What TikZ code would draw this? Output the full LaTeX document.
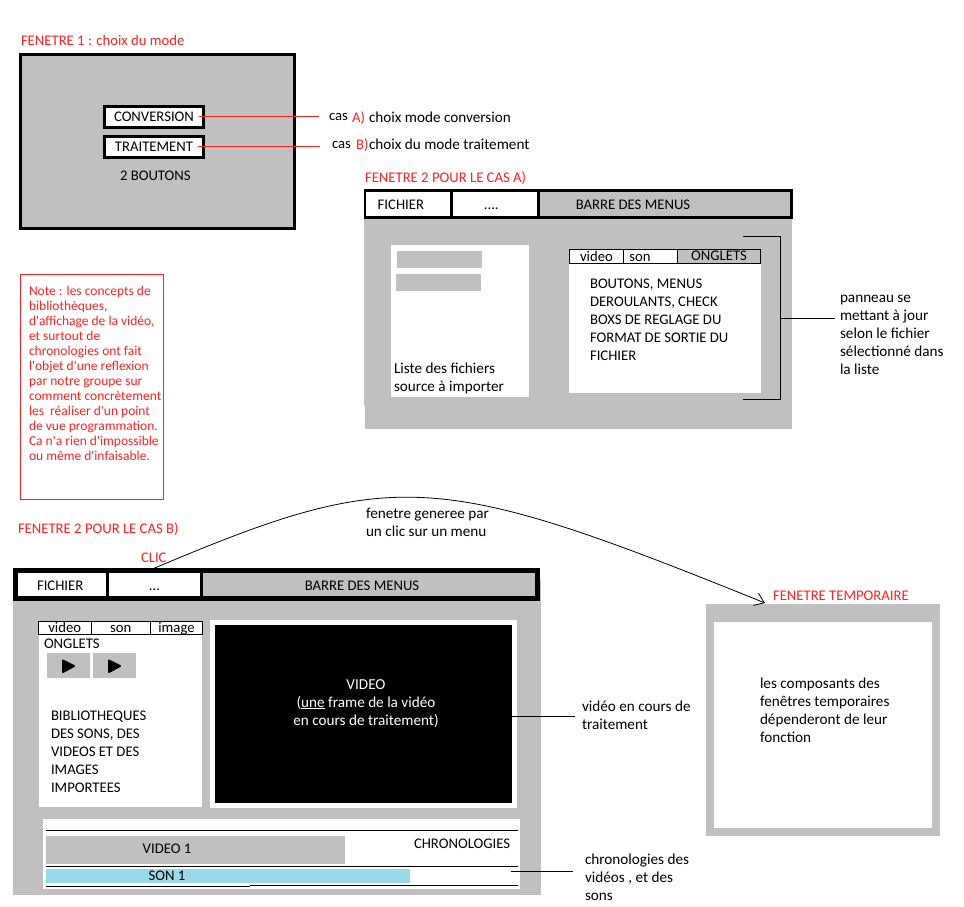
\documentclass[tikz,border=0pt]{standalone}
\usepackage{fontspec}
\setmainfont{Carlito}[Ligatures=TeXOff]
\usetikzlibrary{arrows.meta}
\definecolor{wingray}{RGB}{192,192,192}
\definecolor{redtxt}{RGB}{255,32,32}
\definecolor{songblue}{RGB}{153,217,234}
\newcommand{\txtsize}{\fontsize{14.7}{18}\selectfont}
\newcommand{\lowsize}{\fontsize{15.2}{18}\selectfont}
\newcommand{\notesize}{\fontsize{13.5}{15}\selectfont}
\newcommand{\pxbox}[7]{%
  \pgfmathsetmacro{\bw}{#5-#3}\pgfmathsetmacro{\bh}{#6-#4}%
  \pgfmathsetmacro{\bx}{(#3+#5)/2}\pgfmathsetmacro{\by}{(#4+#6)/2}%
  \node[boxbase,#2,minimum width=\bw pt,minimum height=\bh pt] (#1) at (\bx,\by) {#7};}
\newcommand{\lbl}[5][]{\node[txt,#1] (#2) at (#3,#4) {\strut\smash{#5}};}
\newcommand{\mlbl}[5][]{\pgfmathsetmacro{\ty}{#4-10}%
  \node[mtxt,#1] (#2) at (#3,\ty) {\rule{0pt}{10pt}#5};}
\tikzset{
  boxbase/.style={rectangle,inner sep=0pt,outer sep=0pt,text height=9pt,text depth=0pt,font=\txtsize},
  gray fill/.style={fill=wingray},
  white fill/.style={fill=white},
  heavy/.style={draw=black,line width=3pt},
  thinbox/.style={draw=black,line width=1pt},
  low text/.style={text height=11pt,text depth=0pt},
  txt/.style={anchor=base west,inner sep=0pt,outer sep=0pt,font=\txtsize},
  mtxt/.style={anchor=north west,align=left,inner sep=0pt,outer sep=0pt,font=\txtsize},
  lc/.style={font=\lowsize},
  red label/.style={text=redtxt},
  leader/.style={draw=black,line width=0.8pt},
  redleader/.style={draw=redtxt,line width=0.8pt},
  playtri/.style={fill=black,draw=black,line width=2pt,line join=round},
}
\begin{document}
\begin{tikzpicture}[x=1pt,y=-1pt]
\useasboundingbox (0,0) rectangle (964,907);
\fill[white] (0,0) rectangle (964,907);

% ---------- FENETRE 1
\lbl[red label]{t1}{21}{46}{FENETRE 1 : choix du mode}
\pxbox{w1}{gray fill,heavy}{20.5}{54.5}{294}{228}{}
\pxbox{conv}{white fill,heavy}{104.5}{106.5}{203.5}{127}{CONVERSION}
\pxbox{trait}{white fill,heavy}{104.5}{136.5}{203.5}{157}{TRAITEMENT}
\lbl{deuxb}{120}{180}{2 BOUTONS}
\lbl{casA}{329}{121}{cas}
\lbl[red label]{casAr}{352}{122}{A)}
\lbl[lc]{casAt}{369}{122}{choix mode conversion}
\lbl{casB}{332}{148}{cas}
\lbl[red label]{casBr}{356}{149}{B)}
\lbl[lc]{casBt}{369}{149}{choix du mode traitement}
\coordinate (endA) at (318.5,116.75);
\coordinate (endB) at (320,146.75);
\draw[redleader] ([xshift=-5pt]conv.east) -- (endA);
\draw[redleader] ([xshift=-6pt]trait.east) -- (endB);

% ---------- FENETRE 2 cas A
\lbl[red label]{t2a}{365}{182}{FENETRE 2 POUR LE CAS A)}
\pxbox{w2a}{gray fill}{364}{200}{791.5}{405.5}{}
\pxbox{w2ab}{gray fill}{365}{405}{791.5}{429}{}
\pxbox{bara}{fill=black}{363.5}{189}{792.5}{218.7}{}
\pxbox{fa}{white fill,low text}{366}{192}{449.8}{216}{\hspace*{-14pt}FICHIER}
\pxbox{da}{white fill,low text}{452.8}{192}{536.8}{216}{\hspace*{-7pt}....}
\pxbox{ba}{gray fill,low text}{540}{192}{790}{216}{\hspace*{-64pt}BARRE DES MENUS}
\pxbox{lista}{white fill}{391}{245}{529}{397}{}
\pxbox{g1}{gray fill}{397}{251}{482}{268}{}
\pxbox{g2}{gray fill}{396}{274}{481}{291}{}
\mlbl[lc]{lista t}{394}{373}{Liste des fichiers\\source à importer}
\pxbox{panA}{white fill}{569}{249}{761}{393}{}
\pxbox{tab1}{white fill,thinbox,low text}{569.5}{249.5}{623.5}{263}{video}
\pxbox{tab2}{white fill,thinbox,low text}{623.5}{249.5}{677.5}{263}{\hspace*{-21pt}son}
\pxbox{tab3}{gray fill,thinbox}{677.5}{249.5}{760.5}{263}{ONGLETS}
\mlbl{panA t}{590}{288}{BOUTONS, MENUS\\DEROULANTS, CHECK\\BOXS DE REGLAGE DU\\FORMAT DE SORTIE DU\\FICHIER}
\coordinate (br1) at (743,236);
\coordinate (br2) at (780.6,236);
\coordinate (br3) at (780.6,399);
\coordinate (br4) at (743,399);
\coordinate (brm) at (780.6,318.5);
\coordinate (panEnd) at (835,318.5);
\draw[leader] (br1) -- (br2) -- (br3) -- (br4);
\draw[leader] (brm) -- (panEnd);
\mlbl[lc]{pan t}{840}{302}{panneau se\\mettant à jour\\selon le fichier\\sélectionné dans\\la liste}

% ---------- NOTE
\pxbox{note}{draw=redtxt,line width=.8pt}{20.5}{274.5}{163.5}{499.5}{}
\mlbl[font=\notesize,text=redtxt]{note t}{29}{295}{Note : les concepts de\\bibliothèques,\\d'affichage de la vidéo,\\et surtout de\\chronologies ont fait\\l'objet d'une reflexion\\par notre groupe sur\\comment concrètement\\les\ \ réaliser d'un point\\de vue programmation.\\Ca n'a rien d'impossible\\ou même d'infaisable.}

% ---------- FENETRE 2 cas B
\lbl[red label]{t2b}{18}{533}{FENETRE 2 POUR LE CAS B)}
\lbl[red label]{clic}{141}{562}{CLIC}
\pxbox{w2b}{gray fill}{13}{580}{541}{895}{}
\pxbox{barb}{fill=black}{13}{568}{540}{600.7}{}
\pxbox{fb}{white fill,low text}{17.7}{573.3}{105.7}{595.7}{\hspace*{-3pt}FICHIER}
\pxbox{db}{white fill,low text}{109}{573.3}{200}{595.7}{...}
\pxbox{bb}{gray fill,low text}{203}{573.3}{535}{595.7}{\hspace*{-14pt}BARRE DES MENUS}
\pxbox{panB}{white fill}{39}{621}{202}{807}{}
\pxbox{tb1}{white fill,thinbox}{38.5}{621.5}{91}{634.5}{video}
\pxbox{tb2}{white fill,thinbox}{91}{621.5}{150.5}{634.5}{son}
\pxbox{tb3}{white fill,thinbox}{150.5}{621.5}{202.5}{634.5}{image}
\lbl{ong}{44}{648}{ONGLETS}
\pxbox{pb1}{gray fill}{47}{653}{90}{678}{}
\pxbox{pb2}{gray fill}{93}{653}{136}{678}{}
\filldraw[playtri] (63,660.5) -- (74,666) -- (63,672) -- cycle;
\filldraw[playtri] (109,660.5) -- (120,666) -- (109,672) -- cycle;
\mlbl{bib t}{51}{720}{BIBLIOTHEQUES\\DES SONS, DES\\VIDEOS ET DES\\IMAGES\\IMPORTEES}
\pxbox{vidw}{white fill}{210}{620}{517}{808}{}
\pxbox{vid}{fill=black}{215}{625}{512}{803}{}
\node[mtxt,lc,anchor=north,align=center,text=white] (vid t) at (366,679) {\rule{0pt}{10pt}VIDEO\\(\underline{une} frame de la vidéo\\en cours de traitement)};
\coordinate (vidEnd) at (575,716.5);
\draw[leader] (vid.east |- vidEnd) -- (vidEnd);
\mlbl[lc]{vid l}{582}{711}{vidéo en cours de\\traitement}
\pxbox{chrono}{white fill}{43}{819}{520}{889}{}
\pxbox{v1}{gray fill,text height=10pt,text depth=3pt}{46}{836}{345}{864}{\hspace*{-57pt}VIDEO 1}
\pxbox{s1}{fill=songblue}{46}{869}{410}{883}{\hspace*{-122pt}SON 1}
\coordinate (l1a) at (46,830.5);
\coordinate (l1b) at (518,830.5);
\coordinate (l2a) at (46,866.5);
\coordinate (l2b) at (518,866.5);
\coordinate (l3a) at (46,886.5);
\coordinate (l3b) at (250,886.5);
\coordinate (l4a) at (250,885.5);
\coordinate (l4b) at (518,885.5);
\draw[leader] (l1a) -- (l1b);
\draw[leader] (l2a) -- (l2b);
\draw[leader] (l3a) -- (l3b);
\draw[leader] (l4a) -- (l4b);
\lbl{chr}{414}{848}{CHRONOLOGIES}
\coordinate (chrS) at (511,871);
\coordinate (chrE) at (573,871);
\draw[leader] (chrS) -- (chrE);
\mlbl[lc]{chr l}{585}{864}{chronologies des\\vidéos , et des\\sons}

% ---------- FENETRE TEMPORAIRE
\lbl[red label]{t3}{773}{600}{FENETRE TEMPORAIRE}
\pxbox{tmp}{gray fill}{706}{604}{940}{836}{}
\pxbox{tmpw}{white fill}{714}{622}{932}{828}{}
\mlbl[lc]{tmp t}{760}{688}{les composants des\\fenêtres temporaires\\dépenderont de leur\\fonction}

% ---------- Courbe
\draw[black,line width=.8pt,-{Straight Barb[length=9pt,width=13pt]}]
  ([yshift=5pt,xshift=-.5pt]db.north) .. controls (394,467) and (436,470) .. ([xshift=-58pt,yshift=1pt]tmp.north);
\mlbl[lc]{crv t}{366}{518}{fenetre generee par\\un clic sur un menu}
\end{tikzpicture}
\end{document}
